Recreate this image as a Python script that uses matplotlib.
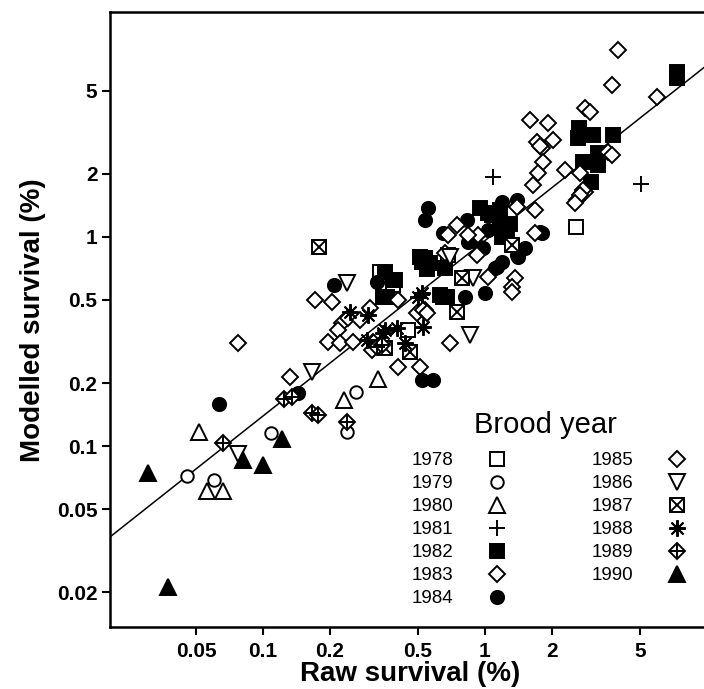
import matplotlib
matplotlib.use("Agg")
import matplotlib.pyplot as plt
import numpy as np

plt.rcParams['font.family'] = ['Liberation Sans', 'DejaVu Sans']

# ---------------- data (raw survival %, modelled survival %) ----------------
raw_1978 = [2.57, 0.45, 0.336, 0.385, 0.68]
mod_1978 = [1.12, 0.36, 0.68, 0.59, 0.82]

raw_1979 = [0.0455, 0.060, 0.109, 0.239, 0.262]
mod_1979 = [0.072, 0.069, 0.115, 0.117, 0.181]

raw_1980 = [0.0515, 0.056, 0.066, 0.232, 0.33]
mod_1980 = [0.117, 0.061, 0.061, 0.166, 0.209]

raw_1981 = [1.087, 5.04, 0.52, 1.2]
mod_1981 = [1.94, 1.79, 0.53, 1.05]

raw_1982 = [7.33, 7.33, 2.65, 2.62, 3.06, 3.77, 2.76, 3.23, 3.23, 3.0,
            0.95, 1.075, 1.17, 1.26, 1.03, 1.17, 1.3, 1.2,
            0.355, 0.385, 0.362, 0.537, 0.565, 0.51, 0.647, 0.627, 0.674,
            0.347, 0.393, 0.52, 0.55, 0.66]
mod_1982 = [6.16, 5.76, 3.32, 2.98, 3.08, 3.08, 2.28, 2.52, 2.21, 1.83,
            1.38, 1.27, 1.18, 1.08, 1.30, 1.35, 1.15, 1.0,
            0.68, 0.62, 0.516, 0.79, 0.75, 0.80, 0.516, 0.53, 0.516,
            0.516, 0.622, 0.76, 0.70, 0.71]

raw_1983 = [0.171, 0.205, 0.303, 0.227, 0.218, 0.196, 0.222, 0.254, 0.241,
            0.273, 0.313, 0.310, 0.132, 0.077, 0.406, 0.509, 0.406, 0.537,
            0.494, 0.526, 0.548, 0.70, 0.66]
mod_1983 = [0.50, 0.489, 0.457, 0.388, 0.359, 0.315, 0.311, 0.315, 0.410,
            0.401, 0.315, 0.288, 0.214, 0.311, 0.239, 0.239, 0.50, 0.448,
            0.433, 0.448, 0.433, 0.311, 0.84]

raw_1984 = [0.0634, 0.144, 0.209, 0.327, 0.52, 0.583, 0.554, 0.537, 0.647,
            0.83, 0.838, 0.813, 1.0, 1.03, 0.95, 1.41, 1.51, 1.77, 1.81,
            1.13, 1.2, 1.2, 1.39, 0.98, 1.39, 1.11]
mod_1984 = [0.159, 0.179, 0.589, 0.609, 0.207, 0.207, 1.38, 1.21, 1.04,
            1.21, 0.946, 0.516, 0.54, 1.08, 0.896, 0.80, 0.886, 1.06, 1.04,
            0.72, 0.76, 1.47, 1.50, 0.886, 0.82, 0.711]

raw_1985 = [3.97, 3.73, 5.96, 2.82, 2.97, 1.6, 1.92, 1.71, 2.02, 1.81,
            1.82, 1.73, 1.65, 2.29, 2.6, 2.74, 2.82, 3.58, 3.73, 2.68,
            2.76, 2.68, 2.54, 1.68, 1.77, 0.748, 0.681, 0.93, 0.92, 1.03,
            1.36, 1.32, 1.32, 1.39, 1.68, 0.84]
mod_1985 = [7.85, 5.34, 4.68, 4.14, 3.96, 3.63, 3.51, 2.85, 2.91, 2.67,
            2.28, 2.02, 1.77, 2.09, 1.50, 1.62, 1.64, 2.55, 2.47, 2.02,
            1.68, 1.59, 1.45, 1.35, 2.72, 1.14, 1.02, 1.02, 0.82, 0.644,
            0.637, 0.576, 0.546, 1.39, 1.04, 1.02]

raw_1986 = [0.239, 0.166, 0.077, 0.855, 0.883, 0.695]
mod_1986 = [0.60, 0.226, 0.0916, 0.34, 0.637, 0.80]

raw_1987 = [0.179, 0.788, 0.748, 0.459, 0.355, 1.32]
mod_1987 = [0.896, 0.637, 0.438, 0.282, 0.294, 0.916]

raw_1988 = [0.247, 0.297, 0.355, 0.401, 0.526, 0.499, 0.436, 0.294, 0.347, 0.520]
mod_1988 = [0.438, 0.424, 0.359, 0.367, 0.371, 0.516, 0.311, 0.322, 0.347, 0.540]

raw_1989 = [0.066, 0.124, 0.136, 0.166, 0.177, 0.239, 0.326, 0.343]
mod_1989 = [0.103, 0.168, 0.171, 0.144, 0.141, 0.130, 0.298, 0.304]

raw_1990 = [0.0303, 0.0373, 0.0813, 0.100, 0.122]
mod_1990 = [0.0743, 0.0212, 0.0857, 0.0811, 0.108]

years = ["1978", "1979", "1980", "1981", "1982", "1983", "1984",
         "1985", "1986", "1987", "1988", "1989", "1990"]
raw_values = [raw_1978, raw_1979, raw_1980, raw_1981, raw_1982, raw_1983, raw_1984,
              raw_1985, raw_1986, raw_1987, raw_1988, raw_1989, raw_1990]
mod_values = [mod_1978, mod_1979, mod_1980, mod_1981, mod_1982, mod_1983, mod_1984,
              mod_1985, mod_1986, mod_1987, mod_1988, mod_1989, mod_1990]

# fitted line: modelled = a * raw ** b
fit_a = 0.96
fit_b = 0.839

x_ticks = [0.05, 0.1, 0.2, 0.5, 1, 2, 5]
x_tick_labels = ["0.05", "0.1", "0.2", "0.5", "1", "2", "5"]
y_ticks = [0.02, 0.05, 0.1, 0.2, 0.5, 1, 2, 5]
y_tick_labels = ["0.02", "0.05", "0.1", "0.2", "0.5", "1", "2", "5"]

# ---------------- marker styles ----------------
MEW = 1.4
SQ = 9.5
DI = 8.6
styles = {
    "1978": [dict(marker='s', ms=SQ, mfc='white', mec='black')],
    "1979": [dict(marker='o', ms=9, mfc='white', mec='black')],
    "1980": [dict(marker='^', ms=12, mfc='white', mec='black')],
    "1981": [dict(marker='+', ms=12, mec='black')],
    "1982": [dict(marker='s', ms=SQ, mfc='black', mec='black')],
    "1983": [dict(marker='D', ms=DI, mfc='white', mec='black')],
    "1984": [dict(marker='o', ms=9.5, mfc='black', mec='black')],
    "1985": [dict(marker='D', ms=DI, mfc='white', mec='black')],
    "1986": [dict(marker='v', ms=12, mfc='white', mec='black')],
    "1987": [dict(marker='s', ms=SQ, mfc='white', mec='black'),
             dict(marker='x', ms=SQ, mec='black')],
    "1988": [dict(marker=(8, 2, 0), ms=12, mec='black')],
    "1989": [dict(marker='D', ms=DI, mfc='white', mec='black'),
             dict(marker='+', ms=DI * 1.414, mec='black')],
    "1990": [dict(marker='^', ms=12, mfc='black', mec='black')],
}

fig = plt.figure(figsize=(7.04, 6.89), dpi=100)
ax = fig.add_axes([110 / 704, 1 - 627 / 689, 594 / 704, 615 / 689])
ax.set_xscale('log')
ax.set_yscale('log')
ax.set_xlim(0.0205, 9.7)
ax.set_ylim(0.01365, 11.9)

# fitted line
xl = np.logspace(np.log10(0.0205), np.log10(9.7), 100)
ax.plot(xl, fit_a * xl ** fit_b, color='black', lw=1.1, zorder=2)

for yr, xs, ys in zip(years, raw_values, mod_values):
    for st in styles[yr]:
        ax.plot(xs, ys, linestyle='none', mew=MEW, zorder=3, **st)

ax.set_xticks(x_ticks)
ax.set_xticklabels(x_tick_labels)
ax.set_yticks(y_ticks)
ax.set_yticklabels(y_tick_labels)
ax.minorticks_off()
ax.tick_params(axis='both', which='major', direction='out', length=6, width=1.5,
               labelsize=15, pad=3)
for lab in ax.get_xticklabels() + ax.get_yticklabels():
    lab.set_fontweight('bold')
ax.tick_params(axis='x', pad=5)

for side in ['left', 'bottom', 'top']:
    ax.spines[side].set_linewidth(1.8)
ax.spines['right'].set_visible(False)

# ---------------- axis titles ----------------
def fx(px):
    return px / 704

def fy(py):
    return 1 - py / 689

fig.text(fx(410), fy(681), "Raw survival (%)", fontsize=20, fontweight='bold',
         ha='center', va='baseline')
fig.text(fx(33), fy(320), "Modelled survival (%)", fontsize=20, fontweight='bold',
         ha='center', va='center', rotation=90)

# ---------------- legend (drawn manually) ----------------
fig.text(fx(545), fy(433), "Brood year", fontsize=21, ha='center', va='baseline')
for i, yr in enumerate(years):
    if i < 7:
        lx, mx, row = 412, 497, i
    else:
        lx, mx, row = 592, 677, i - 7
    base = 465 + 23 * row
    fig.text(fx(lx), fy(base), yr, fontsize=13.5, ha='left', va='baseline')
    for st in styles[yr]:
        ax.plot([fx(mx)], [fy(base - 6.5)], transform=fig.transFigure,
                clip_on=False, linestyle='none', mew=MEW, zorder=5, **st)

fig.savefig("out.png", dpi=100)
